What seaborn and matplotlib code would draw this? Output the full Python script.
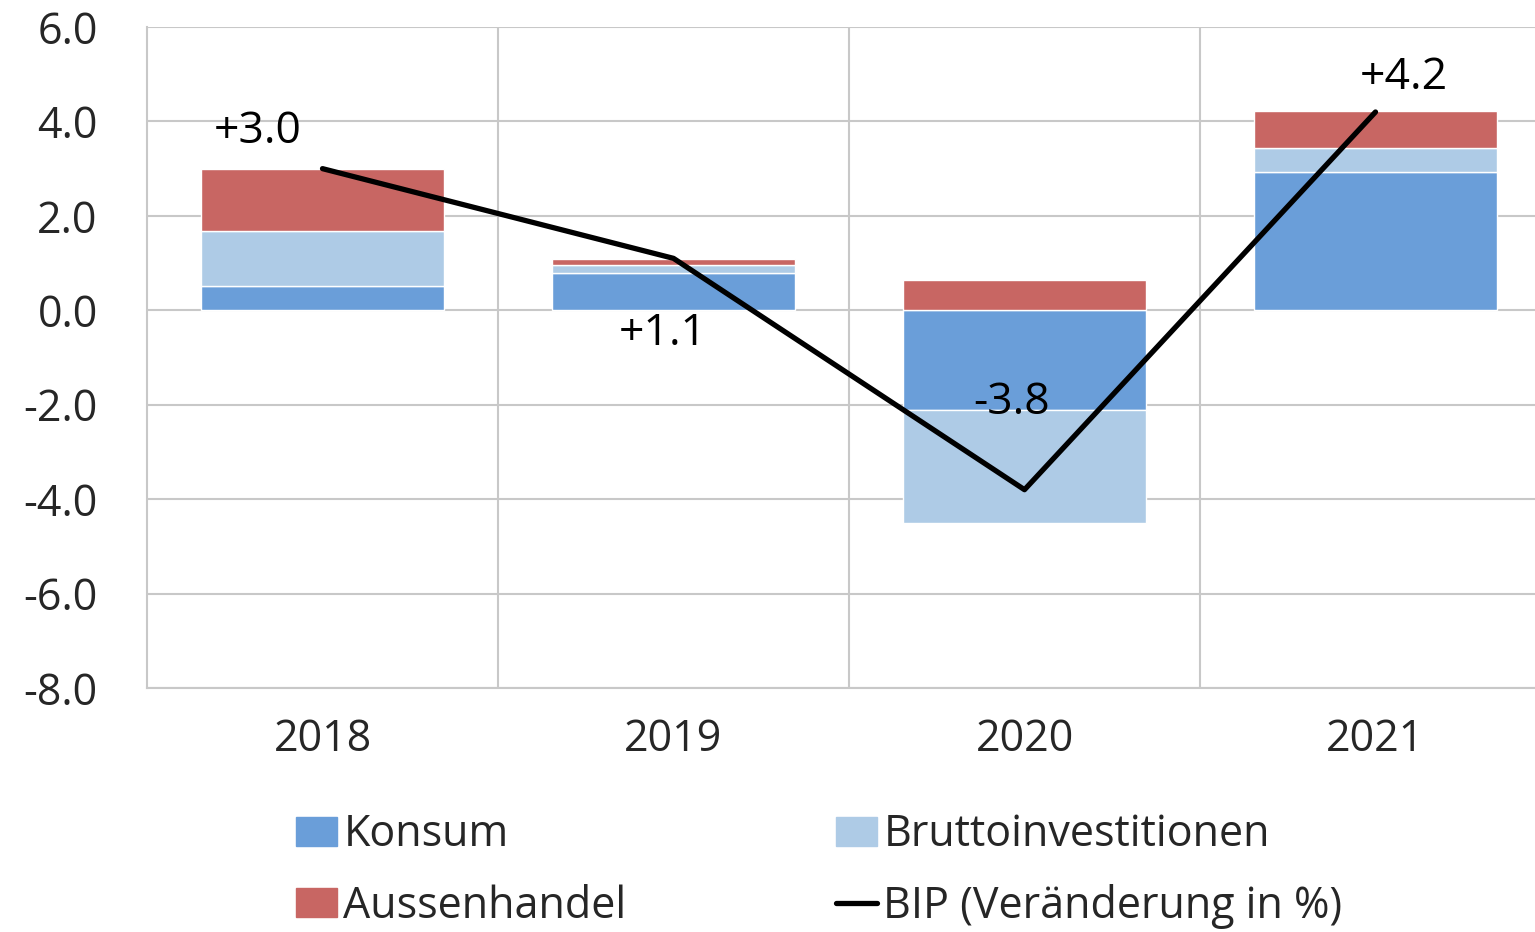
import numpy as np
import seaborn as sns
import matplotlib.pyplot as plt
from matplotlib.patches import Patch
from matplotlib.lines import Line2D
from matplotlib.ticker import FuncFormatter, FixedLocator

# data (Wachstumsbeiträge in Prozentpunkten)
years = ["2018", "2019", "2020", "2021"]
konsum = [0.51, 0.78, -2.12, 2.92]
brutto = [1.16, 0.17, -2.39, 0.51]
aussen = [1.32, 0.13, 0.64, 0.79]
bip = [3.0, 1.1, -3.8, 4.2]
bip_labels = ["+3.0", "+1.1", "-3.8", "+4.2"]
label_offsets = [(-65, 37), (-11, -75), (-13, 87), (28, 34)]  # pixels

c_konsum = "#6A9ED9"
c_brutto = "#AECBE6"
c_aussen = "#C86663"
grid_c = "#C8C8C8"

sns.set_style("white")
plt.rcParams["font.family"] = ["Open Sans", "DejaVu Sans"]

fig = plt.figure(figsize=(15.35, 9.32), dpi=100)
ax = fig.add_axes([147 / 1535, 1 - 688 / 932, 1404 / 1535, 661 / 932])

# stack positives upward and negatives downward, like Excel does
pos_base = np.zeros(len(years))
neg_base = np.zeros(len(years))
for vals, col in [(konsum, c_konsum), (brutto, c_brutto), (aussen, c_aussen)]:
    vals = np.array(vals)
    bottoms = np.where(vals >= 0, pos_base, neg_base)
    sns.barplot(x=years, y=vals, bottom=bottoms, color=col, width=0.69,
                saturation=1, ax=ax, zorder=2)
    pos_base = pos_base + np.where(vals >= 0, vals, 0)
    neg_base = neg_base + np.where(vals < 0, vals, 0)

xs = np.arange(len(years))
sns.lineplot(x=xs, y=bip, color="black", linewidth=3.8, ax=ax, zorder=3,
             solid_capstyle="round")

for x, y, lab, off in zip(xs, bip, bip_labels, label_offsets):
    ax.annotate(lab, (x, y), xytext=off, textcoords="offset pixels",
                ha="center", va="center", fontsize=32, color="black")

ax.set_xlim(-0.5, 3.5)
ax.set_ylim(-8, 6)
ax.set_yticks(np.arange(-8, 7, 2))
ax.yaxis.set_major_formatter(FuncFormatter(lambda v, p: f"{v:.1f}"))
ax.xaxis.set_minor_locator(FixedLocator([0.5, 1.5, 2.5]))

ax.grid(axis="y", which="major", color=grid_c, linewidth=1.5, zorder=0)
ax.grid(axis="x", which="minor", color=grid_c, linewidth=1.5, zorder=0)
ax.set_axisbelow(True)

for s in ["top", "right"]:
    ax.spines[s].set_visible(False)
ax.spines["left"].set_color(grid_c)
ax.spines["left"].set_linewidth(1.5)
ax.spines["bottom"].set_color(grid_c)
ax.spines["bottom"].set_linewidth(1.5)

ax.tick_params(axis="y", length=11.5, width=1.1, color=grid_c, pad=24,
               labelsize=31)
ax.tick_params(axis="x", which="major", length=0, pad=21, labelsize=31)
ax.tick_params(axis="x", which="minor", length=0)
ax.set_xlabel("")
ax.set_ylabel("")

# legend in two columns, placed like the original
leg_kw = dict(frameon=False, fontsize=31, handlelength=0.95, handleheight=0.65,
              handletextpad=0.15, labelspacing=0.62, borderpad=0,
              borderaxespad=0, loc="upper left")
h1 = [Patch(color=c_konsum), Patch(color=c_aussen)]
h2 = [Patch(color=c_brutto), Line2D([], [], color="black", linewidth=3.8)]
fig.legend(h1, ["Konsum", "Aussenhandel"],
           bbox_to_anchor=(296 / 1535, 1 - 813 / 932), **leg_kw)
fig.legend(h2, ["Bruttoinvestitionen", "BIP (Veränderung in %)"],
           bbox_to_anchor=(836 / 1535, 1 - 813 / 932), **leg_kw)

fig.savefig("out.png", dpi=100)
